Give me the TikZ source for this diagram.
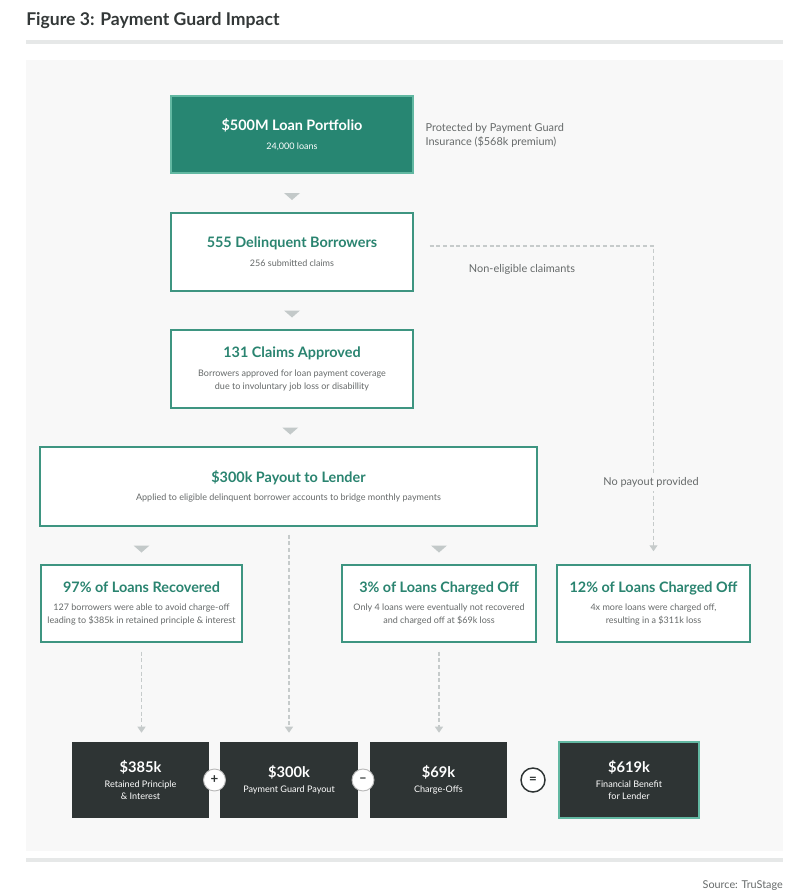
\documentclass[tikz,border=0pt]{standalone}
\usepackage{fontspec}
\setmainfont{Lato}
\usetikzlibrary{arrows.meta,calc}

\definecolor{pgteal}{HTML}{278672}
\definecolor{pgtealrim}{HTML}{62B8A2}
\definecolor{pgborder}{HTML}{3E9581}
\definecolor{pgtitle}{HTML}{2A8470}
\definecolor{pgsub}{HTML}{666A6A}
\definecolor{pgpanel}{HTML}{F8F8F8}
\definecolor{pgrule}{HTML}{E6E8E8}
\definecolor{pgchev}{HTML}{C3C9C9}
\definecolor{pgdash}{HTML}{C6CBCB}
\definecolor{pgdark}{HTML}{2E3434}
\definecolor{pghead}{HTML}{333838}

\newcommand{\ttl}[1]{{\fontsize{10.8}{12}\selectfont\bfseries\color{pgtitle}#1}}
\newcommand{\ttlw}[1]{{\fontsize{10.8}{12}\selectfont\bfseries #1}}
\newcommand{\sumttl}[1]{{\fontsize{11}{13}\selectfont\bfseries #1}}
\newcommand{\chevron}[1]{\fill[pgchev] (#1) ++(-8,0) -- ++(16,0) -- ++(-8,7) -- cycle;}

\tikzset{
  wbox/.style={draw=pgborder, line width=1.1pt, fill=white, inner sep=0pt,
    align=center, text=pgsub, font=\fontsize{6.75}{9.75}\selectfont},
  tealbox/.style={wbox, draw=pgtealrim, fill=pgteal, text=white},
  sumbox/.style={fill=pgdark, inner sep=0pt, align=center, text=white,
    minimum width=137*0.75pt, minimum height=76*0.75pt,
    font=\fontsize{6.8}{9}\selectfont},
  opring/.style={circle, fill=white, draw=gray!55, line width=0.7pt, inner sep=0pt,
    minimum size=22*0.75pt, text=pgdark, font=\fontsize{10}{10}\selectfont\bfseries},
  note/.style={text=pgsub, inner sep=1pt, font=\fontsize{8.2}{10.5}\selectfont},
  dashline/.style={draw=pgdash, line width=0.8pt, dash pattern=on 3pt off 2pt,
    -{Triangle[width=6pt,length=4.5pt]}}
}

\begin{document}
\begin{tikzpicture}[x=0.75pt, y=-0.75pt]
  \useasboundingbox (0,0) rectangle (801,895);
  \fill[white] (0,0) rectangle (801,895);

  % Titulo y fondo
  \node[anchor=base west, inner sep=0pt, text=pghead,
    font=\fontsize{13.2}{15}\selectfont\bfseries] (fig) at (26,26) {Figure 3: Payment Guard Impact};
  \fill[pgrule] (26,40) rectangle (783,44);
  \fill[pgpanel] (26,60) rectangle (783,851);
  \fill[pgrule] (26,858) rectangle (783,862);
  \node[anchor=base east, inner sep=0pt, text=pgsub,
    font=\fontsize{8.1}{10}\selectfont] (src) at (783,888) {Source: TruStage};

  % Cajas de la cadena
  \node[tealbox, minimum width=242*0.75pt, minimum height=77*0.75pt] (port) at (292,134.5)
    {\ttlw{\$500M Loan Portfolio}\\[4.6pt] 24,000 loans};
  \node[note, anchor=west, align=left] (protect) at (424,135)
    {Protected by Payment Guard\\Insurance (\$568k premium)};

  \node[wbox, minimum width=242*0.75pt, minimum height=78*0.75pt] (delq) at (292,252)
    {\ttl{555 Delinquent Borrowers}\\[4.6pt] 256 submitted claims};

  \node[wbox, minimum width=242*0.75pt, minimum height=78*0.75pt] (claims) at (292,369)
    {\ttl{131 Claims Approved}\\[4.6pt] Borrowers approved for loan payment coverage\\
     due to involuntary job loss or disabillity};

  \node[wbox, minimum width=497*0.75pt, minimum height=79*0.75pt] (payout) at (288.5,486.5)
    {\ttl{\$300k Payout to Lender}\\[3.6pt] Applied to eligible delinquent borrower accounts to bridge monthly payments};

  \node[wbox, minimum width=201*0.75pt, minimum height=77*0.75pt] (recov) at (141.5,603.5)
    {\ttl{97\% of Loans Recovered}\\[3.6pt] 127 borrowers were able to avoid charge-off\\
     leading to \$385k in retained principle \& interest};
  \node[wbox, minimum width=194*0.75pt, minimum height=77*0.75pt] (off3) at (439,603.5)
    {\ttl{3\% of Loans Charged Off}\\[3.6pt] Only 4 loans were eventually not recovered\\
     and charged off at \$69k loss};
  \node[wbox, minimum width=193*0.75pt, minimum height=77*0.75pt] (off12) at (653.5,603.5)
    {\ttl{12\% of Loans Charged Off}\\[3.6pt] 4x more loans were charged off,\\
     resulting in a \$311k loss};

  % Flechas grises
  \chevron{$(port.south)!0.5!(delq.north)$}
  \chevron{$(delq.south)!0.5!(claims.north)$}
  \chevron{$(claims.south)!0.5!(payout.north)$}
  \chevron{$(payout.south -| recov.north)!0.5!(recov.north)$}
  \chevron{$(payout.south -| off3.north)!0.5!(off3.north)$}

  % Suma final
  \node[sumbox] (sumrec) at (140.5,780) {\sumttl{\$385k}\\[2pt] Retained Principle\\ \& Interest};
  \node[sumbox, minimum width=138*0.75pt] (sumpay) at (289,780) {\sumttl{\$300k}\\[2pt] Payment Guard Payout};
  \node[sumbox] (sumoff) at (438.5,780) {\sumttl{\$69k}\\[2pt] Charge-Offs};
  \node[sumbox, draw=pgtealrim, line width=1.1pt, minimum width=140*0.75pt] (benefit) at (629,780)
    {\sumttl{\$619k}\\[2pt] Financial Benefit\\ for Lender};

  \node[opring] (plus) at (214.5,780) {+};
  \node[opring] (minus) at (363,780) {\raisebox{0.3pt}{--}};
  \node[opring, draw=pgdark, line width=1.1pt, minimum size=24*0.75pt] (equal) at (533,780) {=};

  % Lineas discontinuas
  \draw[dashline, shorten <=6.75pt, shorten >=6.75pt] (recov.south) -- (recov.south |- sumrec.north);
  \draw[dashline, shorten <=6pt, shorten >=6.75pt] (payout.south -| sumpay.north) -- (sumpay.north);
  \draw[dashline, shorten <=6.75pt, shorten >=6.75pt] (off3.south) -- (off3.south |- sumoff.north);
  \draw[dashline, shorten <=12pt, shorten >=9.75pt] ([yshift=4.5pt]delq.east) -| (off12.north);

  \node[note] (nonelig) at (522,269) {Non-eligible claimants};
  \node[note, fill=pgpanel, inner sep=3pt] (nopay) at (651,482) {No payout provided};

\end{tikzpicture}
\end{document}
